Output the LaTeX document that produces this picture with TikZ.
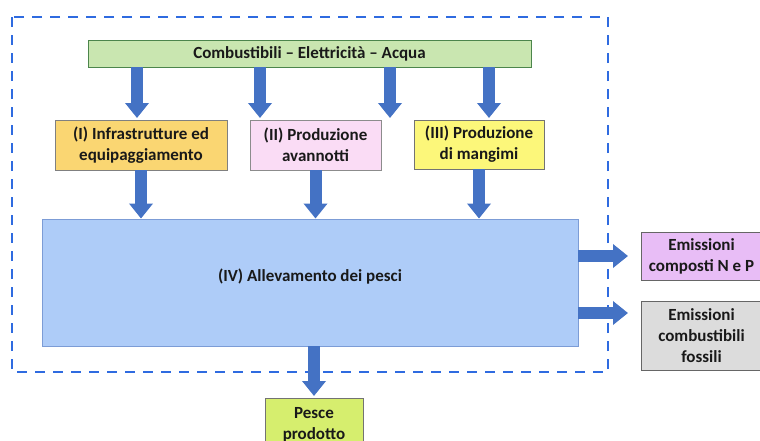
\documentclass[tikz,border=0pt]{standalone}
\usepackage{fontspec}
\setmainfont{Carlito}
\usetikzlibrary{arrows.meta}
\definecolor{flowblue}{HTML}{4472C4}
\definecolor{framblue}{HTML}{2F6BE0}
\definecolor{resgreen}{HTML}{C9E6B0}
\definecolor{infrgold}{HTML}{FAD672}
\definecolor{fryspink}{HTML}{FADCF5}
\definecolor{feedyell}{HTML}{FCF77A}
\definecolor{farmblue}{HTML}{AECCF8}
\definecolor{npviolet}{HTML}{E8BDF6}
\definecolor{fossgrey}{HTML}{DCDCDC}
\definecolor{fishlime}{HTML}{D6EE6E}
\tikzset{
  box/.style={draw=#1, line width=0.9pt, align=center, inner sep=2pt,
    font=\fontsize{17}{21}\selectfont\bfseries, text=black!90},
  box/.default={black!55},
  blockarrow/.style={draw=flowblue, line width=12pt,
    -{Triangle[width=23pt,length=15pt]}, color=flowblue},
  frame/.style={draw=framblue, line width=2pt, dash pattern=on 10pt off 8pt},
}
\begin{document}
\begin{tikzpicture}[x=1pt, y=-1pt]
  \useasboundingbox (0,0) rectangle (760,440);
  \clip (0,0) rectangle (760,440);

  % system boundary
  \draw[frame] (12,17) rectangle (608,372);

  % resources
  \node[box={black!45!green!40!gray}, fill=resgreen, minimum width=443pt, minimum height=27pt]
    (res) at (309.5,53.5) {Combustibili -- Elettricità -- Acqua};

  % production stages
  \node[box={black!50}, fill=infrgold, minimum width=172pt, minimum height=50pt]
    (infra) at (141,145) {(I) Infrastrutture ed\\equipaggiamento};
  \node[box={black!45}, fill=fryspink, minimum width=131pt, minimum height=50pt]
    (fry) at (315.5,145) {(II) Produzione\\avannotti};
  \node[box={black!55}, fill=feedyell, minimum width=130pt, minimum height=49pt]
    (feed) at (479,144.5) {(III) Produzione\\di mangimi};
  \node[box={flowblue!70}, fill=farmblue, minimum width=536pt, minimum height=127pt,
    text depth=14pt] (farm) at (310,282.5) {(IV) Allevamento dei pesci};

  % outputs
  \node[box={black!60}, fill=npviolet, minimum width=121pt, minimum height=48pt]
    (np) at (701.5,256) {Emissioni\\composti N e P};
  \node[box={black!60}, fill=fossgrey, minimum width=121pt, minimum height=69pt]
    (foss) at (701.5,335.5) {Emissioni\\combustibili\\fossili};
  \node[box={black!55}, fill=fishlime, minimum width=98pt, minimum height=52pt,
    anchor=north] (fish) at (314,398) {Pesce\\prodotto};

  % free ends of the supply arrows
  \coordinate (s1) at (137,118);
  \coordinate (s2) at (260,118);
  \coordinate (s3) at (390,118);
  \coordinate (s4) at (489,118);
  \coordinate (e1) at (628,256);
  \coordinate (e2) at (628,313);
  \coordinate (p1) at (314,396);

  % supply arrows
  \foreach \c in {s1,s2,s3,s4}
    \draw[blockarrow] (res.south -| \c) -- (\c);

  % stages into farming
  \draw[blockarrow] (infra.south) -- (farm.north -| infra.south);
  \draw[blockarrow] (fry.south) -- (farm.north -| fry.south);
  \draw[blockarrow] (feed.south) -- (farm.north -| feed.south);

  % outputs of farming
  \draw[blockarrow] (farm.east |- e1) -- (e1);
  \draw[blockarrow] (farm.east |- e2) -- (e2);
  \draw[blockarrow] (farm.south -| p1) -- (p1);
\end{tikzpicture}
\end{document}
